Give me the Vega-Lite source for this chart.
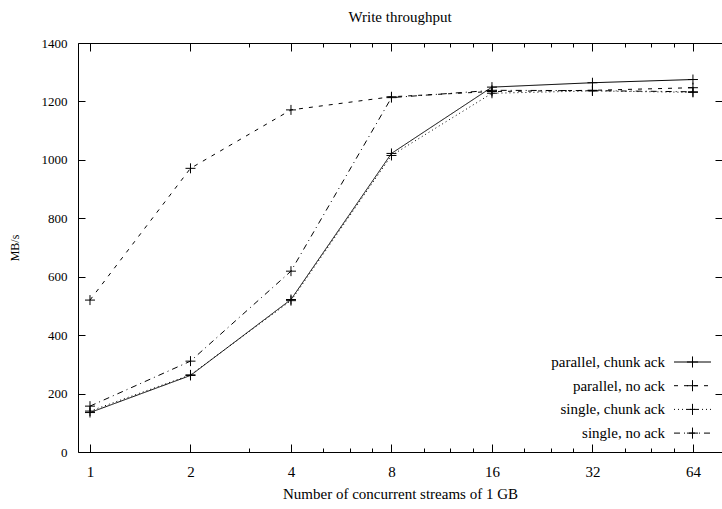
{
  "$schema": "https://vega.github.io/schema/vega-lite/v6.json",
  "width": 644,
  "height": 409,
  "autosize": {"type": "none"},
  "padding": {"left": 78, "top": 43, "right": 0, "bottom": 57},
  "background": "white",
  "config": {
    "view": {"stroke": null},
    "font": "Liberation Serif",
    "axis": {"grid": false, "domainColor": "black", "tickColor": "black", "labelColor": "black", "titleColor": "black", "labelFont": "Liberation Serif", "titleFont": "Liberation Serif", "titleFontWeight": "normal", "labelFontSize": 15, "titleFontSize": 15, "domainWidth": 1, "tickWidth": 1}
  },
  "title": {"text": "Write throughput", "font": "Liberation Serif", "fontSize": 15, "fontWeight": "normal", "color": "black", "anchor": "middle", "offset": 12},
  "data": {
    "values": [
      {"streams": 1, "series": "parallel, chunk ack", "mbps": 135},
      {"streams": 2, "series": "parallel, chunk ack", "mbps": 262},
      {"streams": 4, "series": "parallel, chunk ack", "mbps": 522},
      {"streams": 8, "series": "parallel, chunk ack", "mbps": 1022},
      {"streams": 16, "series": "parallel, chunk ack", "mbps": 1249},
      {"streams": 32, "series": "parallel, chunk ack", "mbps": 1264},
      {"streams": 64, "series": "parallel, chunk ack", "mbps": 1275},
      {"streams": 1, "series": "parallel, no ack", "mbps": 520},
      {"streams": 2, "series": "parallel, no ack", "mbps": 971},
      {"streams": 4, "series": "parallel, no ack", "mbps": 1171},
      {"streams": 8, "series": "parallel, no ack", "mbps": 1216},
      {"streams": 16, "series": "parallel, no ack", "mbps": 1234},
      {"streams": 32, "series": "parallel, no ack", "mbps": 1238},
      {"streams": 64, "series": "parallel, no ack", "mbps": 1247},
      {"streams": 1, "series": "single, chunk ack", "mbps": 140},
      {"streams": 2, "series": "single, chunk ack", "mbps": 264},
      {"streams": 4, "series": "single, chunk ack", "mbps": 518},
      {"streams": 8, "series": "single, chunk ack", "mbps": 1015},
      {"streams": 16, "series": "single, chunk ack", "mbps": 1228},
      {"streams": 32, "series": "single, chunk ack", "mbps": 1236},
      {"streams": 64, "series": "single, chunk ack", "mbps": 1231},
      {"streams": 1, "series": "single, no ack", "mbps": 157},
      {"streams": 2, "series": "single, no ack", "mbps": 311},
      {"streams": 4, "series": "single, no ack", "mbps": 619},
      {"streams": 8, "series": "single, no ack", "mbps": 1213},
      {"streams": 16, "series": "single, no ack", "mbps": 1238},
      {"streams": 32, "series": "single, no ack", "mbps": 1237},
      {"streams": 64, "series": "single, no ack", "mbps": 1233}
    ]
  },
  "layer": [
    {
      "mark": {"type": "line", "color": "black", "strokeWidth": 1},
      "encoding": {
        "x": {
          "field": "streams", "type": "quantitative",
          "scale": {"type": "log", "base": 2, "domain": [0.9206, 78.2], "nice": false},
          "axis": {
            "orient": "bottom",
            "title": "Number of concurrent streams of 1 GB",
            "titlePadding": 3,
            "labelFont": "Liberation Serif", "titleFont": "Liberation Serif",
            "values": [1, 2, 3, 4, 5, 6, 7, 8, 10, 12, 14, 16, 20, 24, 28, 32, 40, 48, 56, 64],
            "labelExpr": "indexof([1,2,4,8,16,32,64], datum.value) >= 0 ? '' + datum.value : ''",
            "tickSize": {"condition": {"test": "indexof([1,2,4,8,16,32,64], datum.value) >= 0", "value": -8}, "value": -4},
            "labelPadding": 20,
            "labelOverlap": false,
            "labelFlush": false
          }
        },
        "y": {
          "field": "mbps", "type": "quantitative",
          "scale": {"domain": [0, 1400], "nice": false},
          "axis": {
            "orient": "left",
            "title": "MB/s",
            "titleFontSize": 12,
            "titlePadding": 20,
            "labelFont": "Liberation Serif", "titleFont": "Liberation Serif",
            "labelFontSize": 13,
            "format": "d",
            "values": [0, 200, 400, 600, 800, 1000, 1200, 1400],
            "tickSize": -7,
            "labelPadding": 18,
            "labelOverlap": false,
            "labelFlush": false
          }
        },
        "strokeDash": {
          "field": "series", "type": "nominal",
          "scale": {"domain": ["parallel, chunk ack", "parallel, no ack", "single, chunk ack", "single, no ack"], "range": [[1, 0], [4, 6], [1, 3], [6, 4, 1, 4]]},
          "legend": {
            "title": null, "orient": "none", "legendX": 607, "legendY": 311.5,
            "symbolType": "M-3,0H3M0,-0.9L0,-0.9M0,0.9L0,0.9", "symbolSize": 152, "symbolStrokeColor": "black", "symbolStrokeWidth": 1,
            "labelFont": "Liberation Serif", "labelFontSize": 15, "labelColor": "black",
            "labelAlign": "right", "labelOffset": -35, "rowPadding": 6.7, "symbolOffset": 0
          }
        }
      }
    },
    {
      "mark": {"type": "point", "filled": false, "color": "black", "strokeWidth": 1, "size": 123, "opacity": 1},
      "encoding": {
        "x": {
          "field": "streams", "type": "quantitative",
          "scale": {"type": "log", "base": 2, "domain": [0.9206, 78.2], "nice": false},
          "axis": {
            "orient": "top", "title": null, "labels": false,
            "values": [1, 2, 3, 4, 5, 6, 7, 8, 10, 12, 14, 16, 20, 24, 28, 32, 40, 48, 56, 64],
            "tickSize": {"condition": {"test": "indexof([1,2,4,8,16,32,64], datum.value) >= 0", "value": -8}, "value": -4}
          }
        },
        "y": {
          "field": "mbps", "type": "quantitative",
          "scale": {"domain": [0, 1400], "nice": false},
          "axis": {"orient": "right", "title": null, "labels": false, "domain": false, "values": [0, 200, 400, 600, 800, 1000, 1200, 1400], "tickSize": -7}
        },
        "shape": {
          "field": "series", "type": "nominal",
          "scale": {"range": ["M-0.9,0H0.9M0,-0.9V0.9", "M-0.9,0H0.9M0,-0.9V0.9", "M-0.9,0H0.9M0,-0.9V0.9", "M-0.9,0H0.9M0,-0.9V0.9"]},
          "legend": {
            "title": null, "orient": "none", "legendX": 607, "legendY": 311.5,
            "symbolSize": 152, "symbolStrokeColor": "black", "symbolFillColor": "transparent", "symbolStrokeWidth": 1,
            "labelFont": "Liberation Serif", "labelFontSize": 15, "labelColor": "black", "labelOpacity": 0,
            "labelAlign": "right", "labelOffset": -35, "rowPadding": 6.7, "symbolOffset": 0
          }
        }
      }
    }
  ],
  "resolve": {"axis": {"x": "independent", "y": "independent"}}
}
